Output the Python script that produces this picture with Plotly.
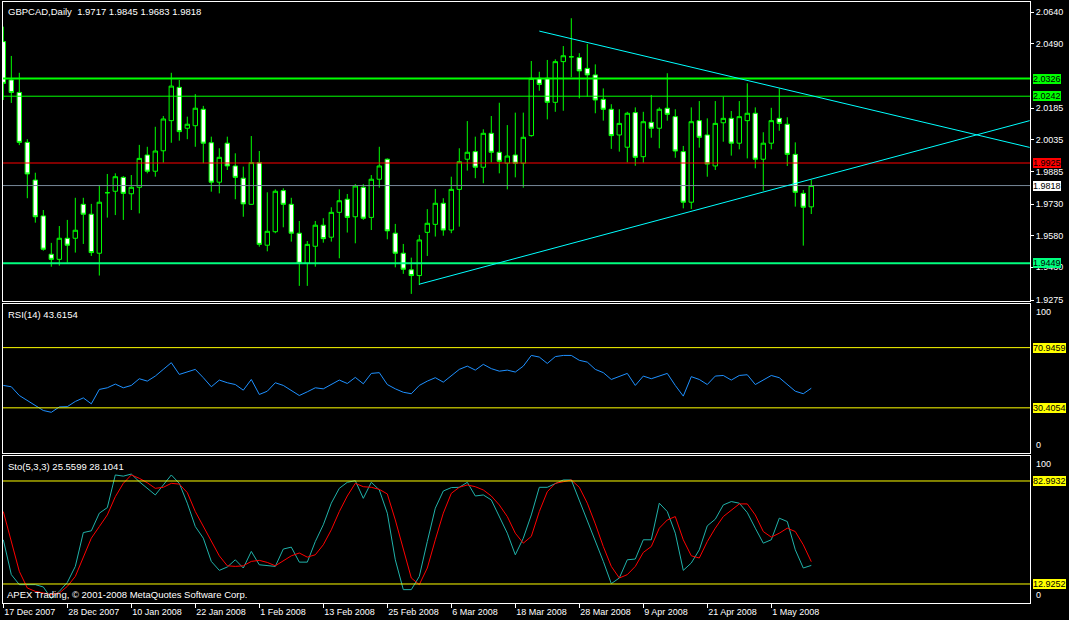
import plotly.graph_objects as go

# ---------------- data ----------------
opens = [2.0501, 2.0319, 2.0260, 2.0023, 1.9844, 1.9674, 1.9492, 1.9468, 1.9568, 1.9568,
         1.9729, 1.9682, 1.9497, 1.9784, 1.9791, 1.9857, 1.9779, 1.9810, 1.9963, 1.9886,
         1.9983, 2.0126, 2.0284, 2.0090, 2.0102, 2.0180, 2.0021, 1.9834, 2.0019, 1.9911,
         1.9853, 1.9729, 1.9927, 1.9535, 1.9599, 1.9794, 1.9729, 1.9592, 1.9449, 1.9530,
         1.9630, 1.9573, 1.9691, 1.9753, 1.9670, 1.9810, 1.9667, 1.9848, 1.9943, 1.9592,
         1.9497, 1.9418, 1.9391, 1.9596, 1.9634, 1.9734, 1.9607, 1.9800, 1.9943, 1.9979,
         1.9905, 2.0066, 1.9976, 1.9924, 1.9963, 1.9924, 2.0055, 2.0327, 2.0327, 2.0213,
         2.0406, 2.0429, 2.0425, 2.0374, 2.0343, 2.0227, 2.0180, 2.0058, 2.0000, 2.0164,
         1.9955, 2.0118, 2.0090, 2.0185, 2.0145, 1.9979, 1.9739, 2.0126, 2.0058, 1.9911,
         2.0116, 2.0137, 2.0019, 2.0126, 2.0161, 1.9943, 2.0019, 2.0137, 2.0109, 1.9966,
         1.9781, 1.9717]
highs = [2.0572, 2.0433, 2.0353, 2.0038, 1.9879, 1.9702, 1.9546, 1.9626, 1.9655, 1.9760,
         1.9760, 1.9731, 1.9821, 1.9873, 1.9876, 1.9863, 1.9868, 2.0011, 2.0002, 2.0097,
         2.0148, 2.0353, 2.0319, 2.0145, 2.0252, 2.0196, 2.0050, 1.9995, 2.0050, 1.9971,
         1.9908, 2.0053, 1.9982, 1.9786, 1.9800, 1.9805, 1.9760, 1.9650, 1.9555, 1.9650,
         1.9663, 1.9715, 1.9800, 1.9778, 1.9825, 1.9825, 1.9868, 2.0002, 1.9947, 1.9636,
         1.9541, 1.9476, 1.9584, 1.9706, 1.9802, 1.9758, 1.9860, 1.9995, 2.0124, 2.0050,
         2.0085, 2.0148, 2.0211, 2.0105, 2.0164, 2.0164, 2.0409, 2.0358, 2.0414, 2.0417,
         2.0480, 2.0612, 2.0446, 2.0490, 2.0393, 2.0279, 2.0204, 2.0180, 2.0168, 2.0189,
         2.0168, 2.0248, 2.0189, 2.0351, 2.0180, 2.0006, 2.0189, 2.0219, 2.0137, 2.0219,
         2.0240, 2.0172, 2.0219, 2.0303, 2.0189, 2.0071, 2.0187, 2.0279, 2.0142, 2.0023,
         1.9797, 1.9845]
lows = [2.0224, 2.0210, 2.0010, 1.9758, 1.9642, 1.9509, 1.9433, 1.9438, 1.9452, 1.9500,
        1.9541, 1.9484, 1.9391, 1.9666, 1.9678, 1.9655, 1.9702, 1.9686, 1.9876, 1.9860,
        1.9927, 2.0021, 2.0031, 2.0038, 2.0002, 1.9924, 1.9789, 1.9781, 1.9892, 1.9753,
        1.9670, 1.9726, 1.9528, 1.9506, 1.9592, 1.9620, 1.9552, 1.9342, 1.9342, 1.9433,
        1.9547, 1.9552, 1.9473, 1.9595, 1.9544, 1.9655, 1.9607, 1.9808, 1.9563, 1.9430,
        1.9399, 1.9304, 1.9346, 1.9484, 1.9576, 1.9580, 1.9592, 1.9623, 1.9889, 1.9853,
        1.9829, 1.9928, 1.9876, 1.9800, 1.9857, 1.9808, 2.0050, 2.0268, 2.0132, 2.0168,
        2.0173, 2.0332, 2.0232, 2.0240, 2.0161, 2.0126, 1.9992, 1.9979, 1.9928, 1.9912,
        1.9927, 2.0045, 1.9995, 2.0126, 1.9950, 1.9710, 1.9707, 1.9998, 1.9860, 1.9892,
        2.0026, 1.9960, 1.9990, 1.9947, 1.9900, 1.9794, 1.9990, 2.0078, 1.9911, 1.9718,
        1.9533, 1.9683]
closes = [2.0303, 2.0260, 2.0023, 1.9873, 1.9670, 1.9516, 1.9468, 1.9568, 1.9535, 1.9606,
          1.9682, 1.9500, 1.9739, 1.9784, 1.9860, 1.9781, 1.9810, 1.9947, 1.9886, 1.9982,
          2.0134, 2.0290, 2.0074, 2.0109, 2.0185, 2.0019, 1.9834, 1.9952, 1.9911, 1.9857,
          1.9731, 1.9927, 1.9539, 1.9601, 1.9791, 1.9729, 1.9592, 1.9449, 1.9539, 1.9630,
          1.9566, 1.9691, 1.9746, 1.9667, 1.9816, 1.9663, 1.9848, 1.9911, 1.9603, 1.9497,
          1.9421, 1.9391, 1.9560, 1.9639, 1.9734, 1.9607, 1.9800, 1.9931, 1.9976, 1.9905,
          2.0066, 1.9976, 1.9933, 1.9958, 1.9924, 2.0047, 2.0327, 2.0298, 2.0213, 2.0406,
          2.0434, 2.0429, 2.0362, 2.0343, 2.0224, 2.0180, 2.0055, 2.0113, 2.0161, 1.9952,
          2.0121, 2.0090, 2.0180, 2.0156, 1.9982, 1.9739, 2.0121, 2.0047, 1.9920, 2.0113,
          2.0137, 2.0019, 2.0145, 2.0161, 1.9943, 2.0019, 2.0126, 2.0113, 1.9966, 1.9786,
          1.9715, 1.9818]

rsi = [45.5, 44.6, 38.7, 35.5, 32.0, 28.6, 27.4, 31.0, 31.2, 34.7,
       37.1, 33.1, 42.8, 43.9, 46.4, 43.9, 45.5, 50.0, 48.4, 51.8,
       56.3, 60.8, 52.9, 54.5, 56.3, 50.7, 44.6, 49.1, 47.3, 46.1,
       42.3, 49.5, 39.4, 41.6, 47.3, 45.5, 42.3, 38.7, 41.2, 43.9,
       43.2, 46.1, 49.1, 46.8, 50.9, 46.6, 53.6, 54.1, 46.1, 43.2,
       40.9, 39.9, 45.5, 48.4, 50.7, 47.7, 52.2, 56.3, 58.5, 55.8,
       59.7, 56.8, 55.1, 55.8, 54.5, 58.5, 65.7, 64.6, 60.3, 64.9,
       65.7, 65.7, 62.4, 61.2, 56.3, 54.1, 49.5, 51.4, 53.6, 45.5,
       51.8, 50.0, 51.8, 53.6, 45.5, 38.3, 51.4, 49.5, 46.1, 51.8,
       52.2, 49.1, 52.2, 52.7, 46.1, 49.1, 52.2, 50.7, 46.1, 41.6,
       39.9, 43.6154]

sto_main = [43.0, 19.3, 12.5, 12.5, 12.5, 10.9, 3.0, 7.9, 14.0, 24.9,
            47.9, 49.1, 61.1, 64.9, 87.1, 86.3, 87.7, 82.5, 78.0, 73.5,
            80.3, 87.1, 81.4, 67.9, 52.0, 44.1, 28.3, 22.2, 24.5, 29.4,
            23.8, 35.1, 26.0, 25.3, 24.9, 36.7, 38.0, 27.8, 27.8, 41.8,
            53.2, 67.9, 78.0, 82.1, 83.2, 71.2, 82.1, 76.9, 61.1, 29.4,
            9.1, 9.1, 18.1, 41.8, 64.5, 76.2, 78.5, 78.7, 82.1, 72.8,
            73.5, 70.1, 58.8, 47.5, 32.8, 44.1, 59.9, 78.7, 78.7, 81.4,
            83.7, 83.7, 70.1, 56.5, 43.0, 28.3, 13.2, 17.0, 29.4, 29.9,
            43.0, 43.0, 67.9, 62.2, 47.5, 22.2, 27.2, 36.2, 52.5, 57.0,
            66.7, 69.0, 67.9, 61.5, 50.9, 40.7, 43.0, 57.7, 55.4, 36.2,
            23.8, 25.5599]
sto_signal = [62.2, 41.8, 21.5, 10.2, 7.9, 6.8, 5.7, 6.8, 11.3, 18.1,
              30.6, 44.1, 52.0, 59.9, 72.3, 81.4, 87.1, 84.8, 81.8, 78.0,
              78.7, 81.4, 80.9, 75.1, 62.2, 52.0, 41.8, 32.1, 25.3, 24.9,
              25.3, 28.3, 29.0, 27.6, 25.3, 29.0, 32.1, 34.0, 31.2, 32.8,
              39.6, 49.8, 62.2, 72.8, 81.4, 79.1, 78.7, 77.3, 74.2, 56.5,
              36.2, 17.0, 12.5, 23.8, 43.0, 61.1, 74.6, 78.7, 80.3, 79.1,
              76.9, 72.8, 66.7, 58.8, 47.5, 40.7, 45.3, 62.2, 75.7, 81.4,
              82.5, 83.7, 78.7, 67.9, 53.8, 38.4, 24.9, 17.0, 19.3, 24.9,
              34.4, 38.4, 50.9, 56.5, 58.8, 43.0, 32.1, 30.6, 41.8, 50.9,
              58.8, 63.3, 67.4, 67.4, 59.9, 48.6, 44.8, 47.5, 50.9, 48.6,
              39.6, 28.1041]

date_labels = ["17 Dec 2007", "28 Dec 2007", "10 Jan 2008", "22 Jan 2008", "1 Feb 2008",
               "13 Feb 2008", "25 Feb 2008", "6 Mar 2008", "18 Mar 2008", "28 Mar 2008",
               "9 Apr 2008", "21 Apr 2008", "1 May 2008"]
date_label_bars = [0, 8, 16, 24, 32, 40, 48, 56, 64, 72, 80, 88, 96]

price_ticks = [2.0640, 2.0490, 2.0185, 2.0035, 1.9885, 1.9730, 1.9580, 1.9430, 1.9275]

level_prices = [2.0326, 2.0242, 1.9925, 1.9818, 1.9449]
rsi_levels = [70.9459, 30.4054]
sto_levels = [82.9932, 12.9252]

# trend lines: start bar, start price, end bar, end price
trend_x0 = [52.0, 67.0]
trend_p0 = [1.9350, 2.0551]
trend_x1 = [128.3, 128.3]
trend_p1 = [2.0126, 1.9999]

symbol = "GBPCAD,Daily"

# ---------------- styles ----------------
level_colors = ['#00FF00', '#00FF00', '#FF0000', '#778899', '#00FF7F']
level_box_colors = ['#00FF00', '#00FF00', '#FF0000', '#FFFFFF', '#00FF7F']
level_widths = [2, 1, 1, 1, 2]
FONT = "Liberation Sans, Arial, sans-serif"

bars = list(range(len(opens)))
xr = [-0.04, 128.34]

fig = go.Figure()

fig.add_trace(go.Candlestick(
    x=bars, open=opens, high=highs, low=lows, close=closes,
    xaxis='x', yaxis='y',
    increasing=dict(line=dict(color='#00FF00', width=1), fillcolor='#000000'),
    decreasing=dict(line=dict(color='#00FF00', width=1), fillcolor='#FFFFFF'),
    whiskerwidth=0, hoverinfo='skip', showlegend=False))

fig.add_trace(go.Scatter(x=bars, y=rsi, xaxis='x2', yaxis='y2', mode='lines',
                         line=dict(color='#1E90FF', width=1), hoverinfo='skip'))
fig.add_trace(go.Scatter(x=bars, y=sto_main, xaxis='x3', yaxis='y3', mode='lines',
                         line=dict(color='#20B2AA', width=1), hoverinfo='skip'))
fig.add_trace(go.Scatter(x=bars, y=sto_signal, xaxis='x3', yaxis='y3', mode='lines',
                         line=dict(color='#FF0000', width=1), hoverinfo='skip'))

shapes = []
annotations = []

for p, col, bcol, w in zip(level_prices, level_colors, level_box_colors, level_widths):
    shapes.append(dict(type='line', xref='x domain', yref='y', x0=0, x1=1, y0=p, y1=p,
                       line=dict(color=col, width=w)))
    annotations.append(dict(xref='paper', x=1, xanchor='left', xshift=3, yref='y', y=p,
                            yanchor='middle', text=f"{p:.4f}", showarrow=False,
                            bgcolor=bcol, borderpad=0, borderwidth=0,
                            font=dict(family=FONT, size=9, color='black')))

for x0, p0, x1, p1 in zip(trend_x0, trend_p0, trend_x1, trend_p1):
    shapes.append(dict(type='line', xref='x', yref='y', x0=x0, y0=p0, x1=x1, y1=p1,
                       line=dict(color='#00FFFF', width=1)))

for ax, levels in (('y2', rsi_levels), ('y3', sto_levels)):
    for v in levels:
        shapes.append(dict(type='line', xref='x domain', yref=ax, x0=0, x1=1, y0=v, y1=v,
                           line=dict(color='#FFFF00', width=1)))
        annotations.append(dict(xref='paper', x=1, xanchor='left', xshift=3, yref=ax, y=v,
                                yanchor='middle', text=f"{v:.4f}", showarrow=False,
                                bgcolor='#FFFF00', borderpad=0, borderwidth=0,
                                font=dict(family=FONT, size=9, color='black')))
    annotations.append(dict(xref='paper', x=1, xanchor='left', xshift=4, yref=ax, y=100,
                            yanchor='top', yshift=-1, text="100", showarrow=False,
                            font=dict(family=FONT, size=9, color='white')))
    annotations.append(dict(xref='paper', x=1, xanchor='left', xshift=4, yref=ax, y=0,
                            yanchor='bottom', yshift=1, text="0", showarrow=False,
                            font=dict(family=FONT, size=9, color='white')))

title_font = dict(family=FONT, size=9.5, color='white')
annotations.append(dict(xref='paper', x=0, xanchor='left', xshift=3,
                        yref='y domain', y=1, yanchor='top', yshift=-2,
                        text=f"{symbol}  {opens[-1]:.4f} {highs[-1]:.4f} {lows[-1]:.4f} {closes[-1]:.4f}",
                        showarrow=False, font=title_font))
annotations.append(dict(xref='paper', x=0, xanchor='left', xshift=3,
                        yref='y2 domain', y=1, yanchor='top', yshift=-3,
                        text=f"RSI(14) {rsi[-1]:.4f}", showarrow=False, font=title_font))
annotations.append(dict(xref='paper', x=0, xanchor='left', xshift=3,
                        yref='y3 domain', y=1, yanchor='top', yshift=-3,
                        text=f"Sto(5,3,3) {sto_main[-1]:.4f} {sto_signal[-1]:.4f}",
                        showarrow=False, font=title_font))
annotations.append(dict(xref='paper', x=0, xanchor='left', xshift=2,
                        yref='y3 domain', y=0, yanchor='bottom', yshift=1,
                        text="APEX Trading, © 2001-2008 MetaQuotes Software Corp.",
                        showarrow=False, font=title_font))

frame = dict(showgrid=False, zeroline=False, showline=True, mirror=True,
             linecolor='white', linewidth=1, automargin=False, fixedrange=True)

fig.update_layout(
    template='none',
    width=1069, height=620,
    margin=dict(l=3, r=39, t=2, b=17, pad=0),
    paper_bgcolor='black', plot_bgcolor='black',
    showlegend=False,
    hovermode=False,
    boxgap=0.45, boxgroupgap=0,
    font=dict(family=FONT, size=9, color='white'),
    xaxis=dict(domain=[0, 1], anchor='y', range=xr, showticklabels=False, ticks='',
               rangeslider=dict(visible=False), **frame),
    xaxis2=dict(domain=[0, 1], anchor='y2', range=xr, showticklabels=False, ticks='', **frame),
    xaxis3=dict(domain=[0, 1], anchor='y3', range=xr, tickmode='array',
                tickvals=date_label_bars, ticktext=date_labels,
                ticks='outside', ticklen=4, tickcolor='white', tickwidth=1,
                ticklabelposition='outside right',
                tickfont=dict(family=FONT, size=9, color='white'), **frame),
    yaxis=dict(domain=[0.5017, 1], anchor='x', range=[1.9268, 2.0689], side='right',
               tickmode='array', tickvals=price_ticks,
               ticktext=[f"{v:.4f}" for v in price_ticks],
               ticks='outside', ticklen=3, tickcolor='white', tickwidth=1,
               tickfont=dict(family=FONT, size=9, color='white'), **frame),
    yaxis2=dict(domain=[0.2496, 0.4967], anchor='x2', range=[0, 100], side='right',
                showticklabels=False, ticks='', **frame),
    yaxis3=dict(domain=[0, 0.2446], anchor='x3', range=[0, 100], side='right',
                showticklabels=False, ticks='', **frame),
    shapes=shapes,
    annotations=annotations,
)

fig.write_html("out.html",
               config={'displayModeBar': False, 'staticPlot': True},
               post_script="document.body.style.margin='0';document.body.style.background='black';")
